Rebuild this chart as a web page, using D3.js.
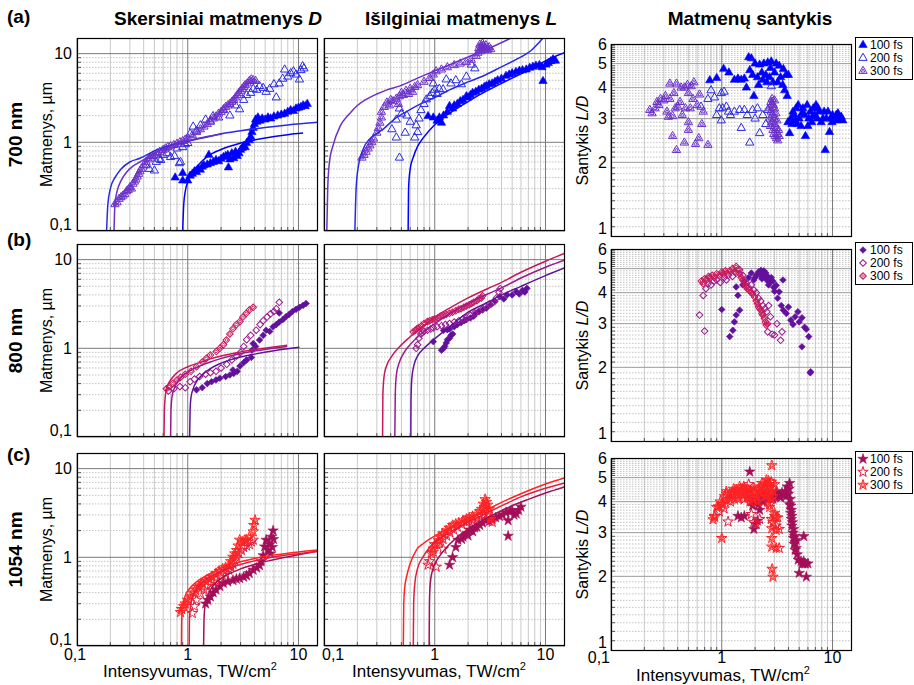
<!DOCTYPE html>
<html>
<head>
<meta charset="utf-8">
<script src="https://cdn.jsdelivr.net/npm/d3@7"></script>
<style>
  body { margin: 0; background: #fff; }
  svg { display: block; }
  text { font-family: "Liberation Sans", Arial, sans-serif; fill: #000; }
</style>
</head>
<body>
<svg id="chart" width="914" height="685"></svg>
<script>
// ---- labels ----
const rowTags = ["(a)", "(b)", "(c)"];
const wavelengths = ["700 nm", "800 nm", "1054 nm"];
const pulses = ["100 fs", "200 fs", "300 fs"];
const sizeTicks = [0.1, 1, 10];
const sizeTickLabels = ["0,1", "1", "10"];
const ratioTicks = [1, 2, 3, 4, 5, 6];
const xTicks = [0.1, 1, 10];
const xTickLabels = ["0,1", "1", "10"];

// ---- 700 nm: transverse size D [I, D] ----
const d700D100 = [[0.77,0.40],[0.9,0.37],[0.9,0.45],[1.0,0.37],[1.05,0.42],[1.1,0.44],[1.15,0.47],[1.2,0.46],[1.25,0.5],[1.3,0.49],[1.35,0.53],[1.4,0.55],[1.5,0.56],[1.55,0.72],[1.6,0.58],[1.7,0.6],[1.8,0.63],[1.9,0.61],[2.0,0.65],[2.1,0.68],[2.2,0.7],[2.33,0.52],[2.3,0.72],[2.4,0.64],[2.5,0.75],[2.6,0.66],[2.7,0.78],[2.8,0.7],[2.9,0.75],[3.0,0.82],[3.1,0.86],[3.2,0.9],[3.3,0.88],[3.4,0.98],[3.6,1.05],[3.7,1.15],[3.8,1.3],[3.9,1.45],[4.0,1.6],[4.1,1.8],[4.2,1.7],[4.3,1.9],[4.5,1.75],[4.7,1.85],[5.0,1.8],[5.3,1.9],[5.6,1.85],[6.0,1.95],[6.5,2.0],[7.0,2.05],[7.5,2.1],[8.0,2.2],[8.5,2.3],[9.0,2.25],[9.5,2.4],[10,2.45],[10.5,2.5],[11,2.6],[11.5,2.55],[12,2.7]];
const d700D200 = [[0.42,0.55],[0.45,0.5],[0.5,0.48],[0.52,0.6],[0.55,0.65],[0.57,0.63],[0.6,0.72],[0.65,0.75],[0.7,0.68],[0.76,0.70],[0.8,0.85],[0.84,0.58],[0.86,0.6],[0.9,0.88],[0.95,0.95],[1.0,0.98],[1.05,1.25],[1.12,1.5],[1.2,1.35],[1.3,1.55],[1.45,1.8],[1.6,1.7],[1.69,1.97],[1.9,1.9],[2.1,2.3],[2.4,2.0],[2.7,2.6],[2.94,2.35],[3.2,3.0],[3.4,3.4],[3.7,3.6],[3.9,4.0],[4.2,3.9],[4.45,4.3],[4.8,4.1],[5.1,3.7],[5.5,4.0],[6.0,4.5],[6.3,3.2],[6.7,4.6],[7.2,5.2],[7.5,6.6],[8.0,5.5],[8.5,6.0],[9.0,6.3],[9.5,5.8],[10.2,5.1],[10.5,6.5],[10.9,7.2],[11.2,6.8]];
const d700D300 = [[0.22,0.20],[0.23,0.21],[0.24,0.23],[0.25,0.24],[0.26,0.25],[0.27,0.26],[0.28,0.28],[0.29,0.29],[0.3,0.31],[0.31,0.30],[0.32,0.34],[0.33,0.36],[0.34,0.38],[0.35,0.41],[0.36,0.44],[0.37,0.47],[0.38,0.5],[0.4,0.55],[0.42,0.6],[0.44,0.64],[0.46,0.67],[0.48,0.7],[0.5,0.72],[0.53,0.75],[0.56,0.78],[0.6,0.82],[0.63,0.85],[0.66,0.88],[0.7,0.9],[0.75,0.93],[0.8,0.96],[0.85,1.0],[0.9,1.03],[0.95,1.07],[1.0,1.12],[1.1,1.2],[1.2,1.3],[1.3,1.4],[1.4,1.5],[1.5,1.6],[1.6,1.75],[1.7,1.85],[1.8,1.95],[1.9,2.1],[2.0,2.2],[2.1,2.35],[2.2,2.5],[2.3,2.6],[2.4,2.7],[2.5,2.85],[2.6,3.0],[2.7,3.2],[2.8,3.4],[2.9,3.6],[3.0,3.8],[3.1,4.0],[3.2,4.2],[3.3,4.4],[3.45,4.6],[3.6,4.9],[3.75,5.1],[3.9,5.0],[4.1,4.9]];
const f700D100 = [[0.9,0.1],[0.92,0.2],[0.95,0.28],[1.0,0.36],[1.1,0.46],[1.25,0.56],[1.5,0.69],[2,0.83],[3,0.98],[5,1.12],[8,1.22],[11,1.27]];
const f700D200 = [[0.185,0.1],[0.19,0.2],[0.2,0.3],[0.22,0.4],[0.25,0.5],[0.3,0.6],[0.37,0.66],[0.5,0.8],[0.7,0.92],[1,1.03],[1.5,1.15],[2,1.25],[3,1.35],[5,1.47],[8,1.57],[15,1.68]];
const f700D300 = [[0.216,0.1],[0.22,0.2],[0.23,0.28],[0.25,0.37],[0.28,0.46],[0.32,0.54],[0.37,0.6],[0.45,0.7],[0.6,0.84],[0.8,0.96],[1,1.04],[1.5,1.16],[2.05,1.24]];

// ---- 700 nm: longitudinal size L ----
const d700L100 = [[0.87,1.97],[0.97,1.9],[1.05,1.75],[1.15,1.66],[1.1,1.9],[1.2,2.0],[1.3,2.2],[1.36,2.56],[1.45,2.4],[1.5,2.6],[1.6,2.7],[1.7,2.9],[1.8,3.0],[1.93,3.3],[2.0,3.2],[2.1,3.4],[2.2,3.6],[2.35,3.7],[2.5,3.9],[2.65,4.0],[2.8,4.2],[2.92,4.3],[3.1,4.5],[3.3,4.6],[3.5,4.8],[3.7,5.0],[4.0,5.2],[4.4,5.6],[4.7,5.8],[5.0,6.0],[5.4,6.2],[5.8,6.4],[6.2,6.5],[6.7,6.6],[7.2,6.9],[7.7,7.1],[8.2,7.3],[8.8,7.4],[9.3,7.0],[9.5,4.9],[10.1,7.5],[10.6,7.8],[11.2,8.2],[11.7,8.6],[12.3,8.3]];
const d700L200 = [[0.41,1.4],[0.45,1.13],[0.45,1.8],[0.48,0.67],[0.48,2.4],[0.5,2.1],[0.54,1.28],[0.56,2.0],[0.6,1.7],[0.66,1.13],[0.68,1.55],[0.7,1.3],[0.72,1.85],[0.75,2.3],[0.8,2.7],[0.84,3.04],[0.9,3.3],[0.95,3.6],[0.97,4.6],[1.0,3.9],[1.05,3.5],[1.1,4.0],[1.19,3.95],[1.27,5.1],[1.4,4.6],[1.55,5.0],[1.74,4.5],[1.93,5.5],[2.14,7.5],[2.3,6.8]];
const d700L300 = [[0.22,0.67],[0.23,0.72],[0.24,0.78],[0.25,0.85],[0.26,0.92],[0.27,1.0],[0.28,1.1],[0.3,1.28],[0.31,1.45],[0.32,1.66],[0.33,1.9],[0.33,2.2],[0.35,2.5],[0.37,2.8],[0.39,2.6],[0.4,3.0],[0.42,2.9],[0.45,3.1],[0.47,2.7],[0.48,3.3],[0.5,3.6],[0.52,3.4],[0.55,3.8],[0.58,3.5],[0.6,4.0],[0.63,3.7],[0.66,4.2],[0.7,4.4],[0.8,4.8],[0.9,5.3],[0.97,5.8],[1.03,6.3],[1.15,6.6],[1.3,7.0],[1.5,7.4],[1.7,7.7],[1.93,8.0],[2.14,8.5],[2.37,9.4],[2.45,10.2],[2.5,11.5],[2.55,12.6],[2.6,10.6],[2.65,11.8],[2.7,13.0],[2.75,12.2],[2.8,10.9],[2.85,11.4],[2.9,12.4],[3.0,11.0],[3.1,11.8],[3.2,11.2]];
const f700L100 = [[0.575,0.1],[0.58,0.3],[0.6,0.5],[0.64,0.68],[0.7,0.9],[0.8,1.15],[0.97,1.52],[1.2,1.9],[1.5,2.3],[1.93,2.8],[2.5,3.4],[3.85,4.5],[5,5.3],[7.7,6.9],[10,8.3],[15,10.3]];
const f700L200 = [[0.19,0.1],[0.195,0.3],[0.205,0.55],[0.225,0.83],[0.26,1.1],[0.3,1.25],[0.34,1.4],[0.45,1.9],[0.55,2.2],[0.68,2.56],[1,3.2],[1.36,3.9],[2,4.8],[2.73,5.6],[4,7.1],[5.45,8.6],[7.5,11],[9.5,15]];
const f700L300 = [[0.106,0.1],[0.108,0.3],[0.112,0.6],[0.12,0.9],[0.14,1.52],[0.17,2.1],[0.2,2.6],[0.24,3.04],[0.3,3.5],[0.37,3.9],[0.48,4.3],[0.7,5.3],[0.97,6.3],[1.4,7.6],[1.93,9.0],[3,11.3],[4.9,15]];

// ---- 700 nm: ratio L/D ----
const r700_100 = [[0.78,4.28],[0.9,4.37],[1.04,4.76],[1.16,4.6],[1.3,4.3],[1.4,4.35],[1.5,4.3],[1.6,4.35],[1.67,4.0],[1.75,5.3],[1.79,4.7],[1.85,5.25],[1.9,4.5],[1.95,3.7],[2.0,5.0],[2.1,4.4],[2.15,4.1],[2.2,4.95],[2.3,4.6],[2.35,4.3],[2.4,5.0],[2.5,4.5],[2.55,4.2],[2.6,5.05],[2.7,4.4],[2.75,4.8],[2.8,5.1],[2.9,4.2],[3.0,4.6],[3.1,5.0],[3.2,4.2],[3.3,4.9],[3.4,4.4],[3.55,4.1],[3.6,4.75],[3.7,3.9],[3.8,4.5],[3.9,3.7],[4.0,4.5],[3.96,2.9],[4.1,2.62],[4.2,3.0],[4.3,2.85],[4.4,3.2],[4.5,3.1],[4.6,2.95],[4.7,3.3],[4.9,3.4],[5.0,3.0],[5.2,2.8],[5.4,3.3],[5.6,3.1],[5.7,2.55],[5.9,3.4],[6.1,3.0],[6.3,3.2],[6.5,2.9],[6.7,3.3],[6.9,3.1],[7.1,3.4],[7.3,3.0],[7.6,3.2],[7.9,2.9],[8.2,3.0],[8.6,2.24],[8.8,3.0],[9.1,3.2],[9.4,2.65],[9.7,3.0],[10.0,3.1],[10.4,2.95],[10.8,3.1],[11.2,3.15],[11.6,3.0],[12.0,3.05],[12.4,2.95],[4.8,2.85],[5.3,3.15],[6.0,2.8],[6.6,3.05],[7.4,3.3],[8.4,3.2],[9.9,2.9],[11.0,2.95]];
const r700_200 = [[0.65,3.35],[0.75,3.6],[0.8,3.9],[0.86,3.65],[0.9,3.1],[0.95,3.3],[0.99,3.8],[0.99,2.95],[1.02,3.3],[1.05,3.85],[1.1,3.35],[1.15,3.2],[1.2,3.1],[1.3,3.2],[1.45,3.25],[1.5,2.75],[1.6,3.25],[1.7,3.1],[1.79,2.4],[1.9,3.25],[2.0,3.0],[2.1,3.3],[2.2,2.62],[2.35,3.1],[2.5,2.85],[2.6,3.25],[2.8,4.05]];
const r700_300 = [[0.224,3.25],[0.235,3.15],[0.25,3.3],[0.26,3.5],[0.27,3.4],[0.28,3.6],[0.3,3.55],[0.31,3.7],[0.32,3.2],[0.33,3.05],[0.34,3.6],[0.34,4.15],[0.36,3.07],[0.36,2.55],[0.37,3.8],[0.38,3.3],[0.39,4.15],[0.39,2.24],[0.4,3.35],[0.42,3.5],[0.43,4.0],[0.44,3.1],[0.46,4.0],[0.46,2.4],[0.47,3.3],[0.49,4.1],[0.5,3.8],[0.5,2.7],[0.5,2.9],[0.52,3.3],[0.53,4.05],[0.55,3.6],[0.56,4.2],[0.58,2.37],[0.6,3.4],[0.62,2.5],[0.63,3.75],[0.66,2.85],[0.68,3.2],[0.75,2.35],[2.7,3.3],[2.72,3.0],[2.75,2.8],[2.78,3.5],[2.8,3.2],[2.82,2.9],[2.85,3.6],[2.85,3.45],[2.88,3.1],[2.9,2.7],[2.92,3.4],[2.95,2.6],[2.98,3.0],[3.0,3.3],[3.0,3.55],[3.02,2.85],[3.05,2.55],[3.08,3.15],[3.1,2.75],[3.12,2.5],[3.15,2.95],[3.18,2.6],[3.2,2.45],[3.25,2.7],[3.3,2.55]];

// ---- 800 nm: D ----
const d800D100 = [[1.2,0.34],[1.35,0.36],[1.5,0.4],[1.64,0.42],[1.8,0.44],[1.95,0.46],[2.2,0.48],[2.4,0.5],[2.6,0.52],[2.56,0.57],[2.8,0.55],[2.96,0.63],[3.2,0.69],[3.4,0.74],[3.75,0.79],[3.8,0.95],[3.9,1.13],[4.1,1.05],[4.45,1.24],[4.8,1.4],[5.1,1.6],[5.5,1.55],[5.9,1.75],[6.3,1.85],[6.7,1.98],[6.7,2.5],[7.2,2.1],[7.7,2.27],[8.2,2.4],[8.8,2.6],[9.5,2.75],[10.2,2.9],[11.0,3.05],[11.7,3.2]];
const d800D200 = [[0.67,0.33],[0.75,0.35],[0.85,0.37],[0.95,0.36],[1.05,0.42],[1.15,0.45],[1.28,0.48],[1.45,0.51],[1.6,0.53],[1.8,0.55],[2.0,0.6],[2.25,0.66],[2.5,0.74],[2.75,0.82],[3.0,0.9],[3.2,1.05],[3.4,1.25],[3.7,1.4],[4.15,1.6],[4.5,1.85],[4.8,2.05],[5.2,2.25],[5.6,2.45],[6.0,2.6],[6.3,2.8],[6.7,3.3]];
const d800D300 = [[0.64,0.35],[0.68,0.37],[0.73,0.4],[0.8,0.44],[0.86,0.47],[0.95,0.51],[1.07,0.55],[1.2,0.62],[1.35,0.7],[1.47,0.77],[1.6,0.84],[1.81,0.92],[1.95,1.0],[2.1,1.1],[2.23,1.24],[2.4,1.45],[2.56,1.66],[2.75,1.85],[2.96,2.0],[3.15,2.25],[3.38,2.48],[3.6,2.7],[3.9,2.9]];
const f800D100 = [[1.04,0.1],[1.05,0.2],[1.07,0.28],[1.12,0.35],[1.2,0.42],[1.35,0.5],[1.6,0.59],[2,0.68],[3,0.8],[4,0.86],[6,0.94],[8,0.99],[10.2,1.03]];
const f800D200 = [[0.70,0.1],[0.705,0.2],[0.72,0.28],[0.76,0.36],[0.82,0.43],[0.9,0.49],[1.0,0.54],[1.28,0.63],[1.6,0.7],[2,0.77],[3,0.87],[4,0.93],[5.5,0.99],[7.9,1.05]];
const f800D300 = [[0.61,0.1],[0.615,0.2],[0.63,0.3],[0.66,0.38],[0.72,0.46],[0.8,0.53],[1.0,0.62],[1.28,0.69],[1.6,0.76],[2,0.82],[3,0.91],[4,0.97],[5.5,1.02],[7.9,1.08]];

// ---- 800 nm: L ----
const d800L100 = [[0.97,1.19],[1.15,0.95],[1.2,1.0],[1.23,1.05],[1.27,1.15],[1.3,1.25],[1.36,1.3],[1.4,1.4],[1.45,1.45],[1.2,1.59],[1.3,1.62],[1.36,1.65],[1.5,1.75],[1.6,1.85],[1.73,1.95],[1.85,2.05],[1.93,2.1],[2.1,2.2],[2.25,2.3],[2.37,2.5],[2.5,2.6],[2.7,2.7],[2.92,2.83],[3.2,3.1],[3.5,3.4],[3.85,3.82],[4.2,3.6],[4.5,4.0],[5.0,4.0],[5.45,4.35],[5.8,4.1],[6.2,4.5],[6.5,4.3],[6.8,4.74]];
const d800L200 = [[0.68,1.0],[0.7,1.1],[0.72,1.3],[0.75,1.45],[0.77,1.5],[0.8,1.55],[0.86,1.6],[0.92,1.65],[0.97,1.7],[1.05,1.75],[1.15,1.8],[1.25,1.85],[1.36,1.9],[1.5,1.98],[1.65,2.05],[1.8,2.15],[1.93,2.2],[2.1,2.35],[2.3,2.5],[2.5,2.6],[2.7,2.8],[2.9,3.0],[3.1,3.15],[3.4,3.3],[3.6,3.7],[3.8,4.3],[3.9,4.7]];
const d800L300 = [[0.64,1.54],[0.67,1.6],[0.69,1.66],[0.72,1.72],[0.76,1.8],[0.8,1.9],[0.86,2.0],[0.9,2.05],[0.95,2.1],[1.0,2.15],[1.07,2.2],[1.12,2.3],[1.2,2.35],[1.27,2.4],[1.36,2.48],[1.45,2.55],[1.55,2.65],[1.65,2.75],[1.73,2.8],[1.83,2.9],[1.93,3.0],[2.05,3.1],[2.15,3.2],[2.25,3.3],[2.4,3.45],[2.5,3.6],[2.63,3.7],[2.7,3.9]];
const f800L100 = [[0.608,0.1],[0.61,0.25],[0.62,0.45],[0.65,0.65],[0.7,0.82],[0.8,1.0],[0.97,1.24],[1.4,1.8],[1.93,2.48],[3,3.3],[3.85,3.9],[6,5.0],[10,6.6],[15,8.1]];
const f800L200 = [[0.436,0.1],[0.44,0.3],[0.45,0.5],[0.48,0.7],[0.53,0.9],[0.6,1.1],[0.75,1.45],[0.97,1.85],[1.4,2.5],[2,3.2],[3,4.1],[4,4.8],[6,6.2],[10,8.2],[15,9.9]];
const f800L300 = [[0.338,0.1],[0.34,0.3],[0.35,0.5],[0.37,0.65],[0.4,0.78],[0.48,1.04],[0.6,1.35],[0.8,1.8],[0.97,2.18],[1.4,2.9],[2,3.7],[3,4.7],[3.85,5.4],[6,7.2],[10,9.6],[15,11.8]];

// ---- 800 nm: ratio ----
const r800_100 = [[1.0,3.42],[1.18,2.66],[1.26,2.82],[1.3,3.05],[1.35,3.25],[1.45,3.4],[1.35,4.22],[1.4,3.9],[1.55,4.3],[1.6,4.45],[1.75,4.6],[1.85,4.8],[1.95,4.5],[2.0,4.6],[2.05,4.7],[2.15,4.85],[2.2,4.75],[2.26,4.92],[2.3,4.55],[2.35,4.6],[2.4,4.9],[2.45,4.75],[2.5,4.8],[2.55,4.5],[2.6,4.65],[2.65,4.3],[2.7,4.4],[2.8,4.6],[2.9,4.45],[2.95,4.2],[3.0,4.05],[3.1,4.28],[3.2,3.8],[3.3,4.03],[3.57,4.5],[3.45,3.55],[3.6,3.4],[3.83,3.3],[4.0,3.5],[4.2,3.1],[4.4,2.98],[4.6,3.2],[4.87,3.35],[5.0,3.05],[5.3,3.17],[5.3,2.42],[5.6,2.9],[5.8,2.85],[6.1,2.66],[6.3,1.9],[6.35,1.92]];
const r800_200 = [[0.63,3.25],[0.68,3.9],[0.7,2.8],[0.72,4.15],[0.75,4.35],[0.8,4.3],[0.85,4.45],[0.9,4.5],[0.97,4.4],[1.05,4.6],[1.1,4.5],[1.15,4.7],[1.25,4.65],[1.35,4.8],[1.45,4.95],[1.55,4.7],[1.65,4.4],[1.75,4.2],[1.85,4.3],[1.95,4.1],[2.05,4.0],[2.15,3.8],[2.25,3.7],[2.35,3.55],[2.45,3.45],[2.55,3.35],[2.65,3.55],[2.75,3.2],[2.6,2.78],[2.85,2.72],[3.0,2.7],[3.15,3.0],[3.4,2.57],[3.5,2.78]];
const r800_300 = [[0.656,4.46],[0.68,4.35],[0.7,4.55],[0.73,4.5],[0.76,4.65],[0.78,4.62],[0.82,4.7],[0.86,4.6],[0.9,4.77],[0.95,4.7],[1.0,4.85],[1.03,4.75],[1.08,4.9],[1.12,4.8],[1.18,4.9],[1.25,5.0],[1.3,4.85],[1.35,5.1],[1.4,4.95],[1.45,4.77],[1.5,4.6],[1.55,4.5],[1.6,4.35],[1.65,4.25],[1.7,4.15],[1.78,4.09],[1.85,4.0],[1.9,3.95],[1.98,3.84],[2.05,3.7],[2.1,3.61],[2.15,3.5],[2.2,3.45],[2.26,3.4],[2.3,3.3],[2.35,3.25],[2.43,3.15],[2.48,3.05],[2.52,2.96],[2.6,3.0]];

// ---- 1054 nm: D ----
const d1054D100 = [[1.45,0.3],[1.52,0.33],[1.6,0.36],[1.7,0.4],[1.8,0.43],[1.95,0.47],[2.1,0.51],[2.3,0.53],[2.56,0.55],[2.75,0.57],[2.94,0.58],[3.2,0.6],[3.4,0.62],[3.6,0.66],[3.9,0.72],[4.2,0.76],[4.45,0.81],[4.6,0.9],[4.8,1.05],[4.95,1.32],[5.1,1.57],[5.3,1.2],[5.5,1.4],[5.6,1.1],[5.7,1.7],[5.8,1.3],[5.9,2.0],[5.95,1.6]];
const d1054D200 = [[1.1,0.234],[1.15,0.28],[1.2,0.33],[1.3,0.39],[1.4,0.43],[1.5,0.47],[1.6,0.5],[1.7,0.53],[1.8,0.55],[1.95,0.6],[2.05,0.63],[2.2,0.66],[2.35,0.72],[2.45,0.78],[2.56,0.84],[2.65,0.92],[2.75,1.0],[2.9,1.1],[3.05,1.2],[3.2,1.3],[3.4,1.35],[3.6,1.4],[3.75,1.5],[3.9,1.57]];
const d1054D300 = [[0.86,0.24],[0.88,0.26],[0.92,0.28],[0.95,0.3],[1.0,0.33],[1.06,0.36],[1.12,0.4],[1.18,0.43],[1.25,0.46],[1.3,0.48],[1.36,0.51],[1.45,0.54],[1.56,0.57],[1.65,0.61],[1.8,0.66],[1.92,0.7],[2.06,0.74],[2.2,0.77],[2.35,0.8],[2.45,0.9],[2.56,1.01],[2.66,1.1],[2.76,1.2],[2.85,1.35],[2.94,1.57],[3.1,1.5],[3.25,1.55],[3.38,1.57],[3.6,1.7],[3.9,1.95],[3.95,2.3],[4.05,2.63]];
const f1054D100 = [[1.39,0.1],[1.4,0.18],[1.42,0.26],[1.48,0.34],[1.6,0.43],[1.81,0.52],[2.2,0.62],[3,0.74],[4,0.83],[5.1,0.9],[7,0.98],[10,1.07],[15,1.17]];
const f1054D200 = [[1.03,0.1],[1.035,0.18],[1.05,0.26],[1.1,0.35],[1.2,0.44],[1.4,0.54],[1.7,0.63],[2.2,0.73],[3,0.83],[4.5,0.94],[7,1.04],[10,1.1],[15,1.17]];
const f1054D300 = [[0.877,0.1],[0.88,0.18],[0.9,0.28],[0.95,0.37],[1.05,0.45],[1.2,0.53],[1.5,0.63],[2,0.75],[2.56,0.84],[4,0.97],[6,1.06],[10,1.15],[15,1.21]];

// ---- 1054 nm: L ----
const d1054L100 = [[1.36,0.82],[1.45,1.0],[1.55,1.3],[1.62,1.57],[1.75,1.6],[1.8,1.7],[1.93,1.85],[2.0,1.75],[2.07,2.05],[2.2,1.95],[2.3,2.15],[2.4,2.2],[2.55,2.3],[2.7,2.45],[2.92,2.6],[3.1,2.55],[3.3,2.7],[3.55,2.8],[3.85,2.9],[4.1,3.0],[4.4,3.2],[4.6,2.6],[4.6,1.74],[4.8,3.3],[5.0,3.4],[5.2,3.0],[5.45,3.1],[5.7,3.4],[6.0,3.7]];
const d1054L200 = [[0.87,0.82],[0.9,0.9],[0.97,1.15],[1.0,1.4],[1.03,0.78],[1.1,1.45],[1.19,1.24],[1.19,1.6],[1.28,1.75],[1.37,1.9],[1.48,2.05],[1.6,2.2],[1.75,2.35],[1.93,2.5],[2.05,2.55],[2.2,2.6],[2.4,2.75],[2.65,2.9],[2.8,3.0],[3.0,3.1],[3.3,2.5]];
const d1054L300 = [[0.93,1.11],[0.97,1.25],[1.04,1.4],[1.08,1.55],[1.11,1.7],[1.18,1.85],[1.27,2.0],[1.35,2.15],[1.45,2.3],[1.55,2.38],[1.65,2.45],[1.8,2.6],[1.93,2.7],[2.05,2.8],[2.2,2.9],[2.35,3.05],[2.55,3.3],[2.65,3.5],[2.75,4.0],[2.8,3.7],[2.85,4.5],[2.92,4.2],[3.0,3.9],[3.1,3.5],[3.2,2.7]];
const f1054L100 = [[0.89,0.1],[0.895,0.3],[0.91,0.5],[0.95,0.7],[1.03,0.9],[1.15,1.1],[1.36,1.4],[1.7,1.8],[2.2,2.25],[3,2.8],[4.5,3.6],[7,4.5],[10,5.3],[15,6.25]];
const f1054L200 = [[0.64,0.1],[0.645,0.3],[0.66,0.5],[0.7,0.75],[0.78,1.0],[0.9,1.3],[1.1,1.6],[1.4,1.95],[2,2.5],[3,3.2],[4,3.8],[6,4.8],[10,6.0],[15,6.9]];
const f1054L300 = [[0.52,0.1],[0.525,0.3],[0.535,0.45],[0.556,0.6],[0.6,0.85],[0.68,1.2],[0.8,1.45],[0.97,1.7],[1.4,2.2],[1.93,2.63],[2.8,3.3],[3.85,4.06],[6,5.2],[10,6.7],[15,7.9]];

// ---- 1054 nm: ratio ----
const r1054_100 = [[1.4,3.5],[1.5,3.45],[1.6,3.5],[1.7,4.2],[1.79,5.28],[1.8,4.45],[1.85,4.0],[1.9,3.85],[1.95,3.1],[2.0,3.25],[2.0,4.1],[2.1,3.35],[2.15,3.9],[2.2,3.7],[2.25,4.4],[2.3,4.2],[2.35,4.0],[2.45,4.3],[2.5,4.15],[2.6,4.1],[2.7,4.25],[2.8,4.35],[2.9,4.1],[3.0,4.2],[3.1,4.4],[3.2,4.3],[3.3,4.2],[3.4,4.15],[3.5,4.35],[3.6,4.25],[3.75,4.4],[3.8,4.2],[3.9,4.6],[4.0,4.3],[4.05,4.5],[4.1,4.75],[4.1,3.9],[4.15,4.1],[4.2,3.85],[4.2,3.6],[4.25,3.4],[4.25,3.7],[4.3,3.2],[4.3,3.5],[4.35,3.3],[4.4,3.0],[4.45,2.85],[4.45,3.1],[4.5,2.7],[4.55,2.9],[4.6,2.55],[4.6,2.75],[4.7,2.8],[4.7,2.6],[4.8,2.45],[4.9,2.33],[5.0,2.06],[5.2,2.3],[5.3,2.25],[5.4,2.25],[5.5,2.9],[5.5,2.3],[5.6,2.25],[5.7,2.25],[5.8,1.99],[6.0,2.25]];
const r1054_200 = [[0.86,3.5],[0.95,3.65],[1.0,3.9],[1.05,3.75],[1.1,4.3],[1.14,3.32],[1.2,4.0],[1.25,4.35],[1.3,4.1],[1.4,4.2],[1.5,4.35],[1.55,4.5],[1.6,4.1],[1.7,4.3],[1.75,4.7],[1.85,3.56],[1.95,3.3],[2.0,4.4],[2.05,3.25],[2.15,4.5],[2.2,3.4],[2.3,4.2],[2.4,4.0],[2.5,4.3],[2.6,4.0],[2.7,3.9],[2.7,4.6],[2.8,4.8],[2.9,3.3],[2.9,4.2],[3.0,3.5],[3.1,3.45],[3.1,3.2],[3.3,3.1],[3.3,2.6]];
const r1054_300 = [[0.835,3.39],[0.86,3.47],[0.9,3.8],[0.93,3.82],[0.97,4.0],[1.0,2.85],[1.03,3.9],[1.06,4.2],[1.1,4.4],[1.12,4.05],[1.18,4.3],[1.2,4.1],[1.25,4.2],[1.28,4.5],[1.3,4.4],[1.36,4.46],[1.4,4.1],[1.42,4.3],[1.45,4.6],[1.5,4.5],[1.55,4.25],[1.58,4.6],[1.62,4.45],[1.65,4.3],[1.7,4.5],[1.72,4.15],[1.8,4.0],[1.85,4.4],[1.9,4.1],[1.95,4.55],[2.0,4.3],[2.05,4.2],[2.1,4.0],[2.15,4.5],[2.2,4.35],[2.25,4.6],[2.3,4.75],[2.35,4.3],[2.4,4.45],[2.45,4.7],[2.5,4.2],[2.53,4.89],[2.6,4.55],[2.65,4.85],[2.71,4.7],[2.75,4.4],[2.8,4.1],[2.71,3.8],[2.83,5.6],[2.8,3.4],[2.83,3.12],[2.83,2.85],[2.83,2.63],[2.85,2.14],[2.9,1.99],[2.9,4.4],[3.0,3.6],[3.0,4.7],[3.1,3.07],[3.1,2.6],[3.2,3.45]];

// ---- layout ----
const PW = 241, PH = 193;
const colX = [77, 324, 611];
const rowYL = [38, 244, 453];
const rowYR = [44, 249, 458];
const palette = [
  ["#0000ff", "#2a2ae6", "#6a30c8"],
  ["#62119c", "#9b1a8e", "#c8185c"],
  ["#a30f58", "#e21c3c", "#ff2222"]
];
const shapes = ["tri", "dia", "star"];

const rows = [
  { D: [d700D100, d700D200, d700D300], Df: [f700D100, f700D200, f700D300],
    L: [d700L100, d700L200, d700L300], Lf: [f700L100, f700L200, f700L300],
    R: [r700_100, r700_200, r700_300] },
  { D: [d800D100, d800D200, d800D300], Df: [f800D100, f800D200, f800D300],
    L: [d800L100, d800L200, d800L300], Lf: [f800L100, f800L200, f800L300],
    R: [r800_100, r800_200, r800_300] },
  { D: [d1054D100, d1054D200, d1054D300], Df: [f1054D100, f1054D200, f1054D300],
    L: [d1054L100, d1054L200, d1054L300], Lf: [f1054L100, f1054L200, f1054L300],
    R: [r1054_100, r1054_200, r1054_300] }
];

const svg = d3.select("#chart");
const defs = svg.append("defs");

function symPath(shape, size) {
  const type = shape === "tri" ? d3.symbolTriangle : shape === "dia" ? d3.symbolSquare : d3.symbolStar;
  return d3.symbol().type(type).size(size)();
}
const symSize = { tri: 30, dia: 22, star: 34 };

function drawMarks(g, pts, shape, color, kind, x, y) {
  const rot = shape === "dia" ? " rotate(45)" : "";
  const outer = symPath(shape, symSize[shape]);
  const sel = g.append("g").selectAll("path").data(pts).join("path")
    .attr("transform", d => `translate(${x(d[0])},${y(d[1])})${rot}`)
    .attr("d", outer);
  if (kind === 0) sel.attr("fill", color).attr("stroke", color).attr("stroke-width", 0.6);
  else sel.attr("fill", "none").attr("stroke", color).attr("stroke-width", 1);
  if (kind === 2) {
    g.append("g").selectAll("path").data(pts).join("path")
      .attr("transform", d => `translate(${x(d[0])},${y(d[1])})${rot}`)
      .attr("d", symPath(shape, symSize[shape] / 5))
      .attr("fill", "none").attr("stroke", color).attr("stroke-width", 0.9);
  }
}

function drawPanel(id, x0, y0, yDomain, ratio) {
  const x = d3.scaleLog().domain([0.1, 15]).range([x0, x0 + PW]);
  const y = d3.scaleLog().domain(yDomain).range([y0 + PH, y0]);
  const g = svg.append("g");

  g.append("rect").attr("x", x0).attr("y", y0).attr("width", PW).attr("height", PH).attr("fill", "#fff");

  // vertical grid
  const xMinor = [];
  [0.1, 1].forEach(b => { for (let k = 2; k <= 9; k++) xMinor.push(b * k); });
  g.append("g").selectAll("line").data(xMinor).join("line")
    .attr("x1", d => x(d)).attr("x2", d => x(d)).attr("y1", y0).attr("y2", y0 + PH)
    .attr("stroke", "#c9c9c9").attr("stroke-width", 1);

  // horizontal grid
  let yMinor, yMid, yMajor;
  if (ratio) {
    yMinor = d3.range(11, 60).filter(v => v % 10 !== 0).map(v => v / 10);
    yMid = [2, 3, 4, 5];
    yMajor = [];
  } else {
    yMinor = [];
    [0.1, 1, 10].forEach(b => { for (let k = 2; k <= 9; k++) if (b * k < 15) yMinor.push(b * k); });
    yMid = [];
    yMajor = sizeTicks;
  }
  g.append("g").selectAll("line").data(yMinor).join("line")
    .attr("x1", x0).attr("x2", x0 + PW).attr("y1", d => y(d)).attr("y2", d => y(d))
    .attr("stroke", "#b4b4b4").attr("stroke-width", 0.8).attr("stroke-dasharray", "1.5,1.5");
  g.append("g").selectAll("line").data(yMid).join("line")
    .attr("x1", x0).attr("x2", x0 + PW).attr("y1", d => y(d)).attr("y2", d => y(d))
    .attr("stroke", "#9a9a9a").attr("stroke-width", 1);
  g.append("g").selectAll("line").data(yMajor).join("line")
    .attr("x1", x0).attr("x2", x0 + PW).attr("y1", d => y(d)).attr("y2", d => y(d))
    .attr("stroke", "#7a7a7a").attr("stroke-width", 1);
  g.append("g").selectAll("line").data(xTicks).join("line")
    .attr("x1", d => x(d)).attr("x2", d => x(d)).attr("y1", y0).attr("y2", y0 + PH)
    .attr("stroke", "#7a7a7a").attr("stroke-width", 1);

  // small inner ticks
  g.append("g").selectAll("line").data(yMinor).join("line")
    .attr("x1", x0).attr("x2", x0 + 4).attr("y1", d => y(d)).attr("y2", d => y(d))
    .attr("stroke", "#555").attr("stroke-width", 1);
  g.append("g").selectAll("line").data(xMinor).join("line")
    .attr("x1", d => x(d)).attr("x2", d => x(d)).attr("y1", y0 + PH).attr("y2", y0 + PH - 4)
    .attr("stroke", "#555").attr("stroke-width", 1);

  defs.append("clipPath").attr("id", id).append("rect")
    .attr("x", x0).attr("y", y0).attr("width", PW).attr("height", PH);
  const plot = g.append("g").attr("clip-path", `url(#${id})`);

  const border = () => g.append("rect").attr("x", x0 + 0.5).attr("y", y0 + 0.5)
    .attr("width", PW - 1).attr("height", PH - 1).attr("fill", "none")
    .attr("stroke", "#000").attr("stroke-width", 1.2);
  return { x, y, g, plot, border };
}

const line = (x, y) => d3.line().x(d => x(d[0])).y(d => y(d[1])).curve(d3.curveMonotoneX);

rows.forEach((row, r) => {
  const cols = palette[r];
  const shape = shapes[r];

  // D and L panels
  [["D", "Df"], ["L", "Lf"]].forEach(([k, kf], c) => {
    const p = drawPanel(`clip${r}${c}`, colX[c], rowYL[r], [0.1, 15], false);
    [0, 1, 2].forEach(i => drawMarks(p.plot, row[k][i], shape, cols[i], i, p.x, p.y));
    [0, 1, 2].forEach(i => p.plot.append("path").datum(row[kf][i])
      .attr("d", line(p.x, p.y)).attr("fill", "none")
      .attr("stroke", cols[i]).attr("stroke-width", 1.5));
    p.border();
    if (c === 0) {
      p.g.append("g").selectAll("text").data(sizeTicks).join("text")
        .attr("x", colX[0] - 5).attr("y", (d, i) => p.y(d) - (i === 0 ? 7 : 0)).attr("dy", "0.36em")
        .attr("text-anchor", "end").attr("font-size", 16)
        .text((d, i) => sizeTickLabels[i]);
    }
    if (r === 2) {
      const anchors = c === 0 ? ["middle", "middle", "middle"] : ["start", "middle", "middle"];
      p.g.append("g").selectAll("text").data(xTicks).join("text")
        .attr("x", (d, i) => p.x(d) + (i === 0 ? -2 : 0)).attr("y", rowYL[r] + PH + 14)
        .attr("text-anchor", (d, i) => anchors[i]).attr("font-size", 16)
        .text((d, i) => xTickLabels[i]);
    }
  });

  // ratio panel
  const p = drawPanel(`clip${r}2`, colX[2], rowYR[r], [1, 6], true);
  [0, 1, 2].forEach(i => drawMarks(p.plot, row.R[i], shape, cols[i], i, p.x, p.y));
  p.border();
  p.g.append("g").selectAll("text").data(ratioTicks).join("text")
    .attr("x", colX[2] - 4).attr("y", d => p.y(d) - (d === 1 ? 9 : 0)).attr("dy", "0.36em")
    .attr("text-anchor", "end").attr("font-size", 16).text(d => d);
  if (r === 2) {
    const anchors = ["end", "middle", "middle"];
    p.g.append("g").selectAll("text").data(xTicks).join("text")
      .attr("x", (d, i) => p.x(d) + (i === 0 ? -1 : 0)).attr("y", rowYR[r] + PH + 12)
      .attr("text-anchor", (d, i) => anchors[i]).attr("font-size", 16)
      .text((d, i) => xTickLabels[i]);
  }

  // legend
  const lx = 855, ly = rowYR[r] - 7;
  const lg = svg.append("g");
  lg.append("rect").attr("x", lx + 0.5).attr("y", ly + 0.5).attr("width", 57).attr("height", 42)
    .attr("fill", "#fff").attr("stroke", "#000").attr("stroke-width", 1);
  pulses.forEach((t, i) => {
    const cy = ly + 8 + i * 13;
    drawMarks(lg, [[0, 0]], shape, cols[i], i, () => lx + 8, () => cy);
    lg.append("text").attr("x", lx + 15).attr("y", cy + 4).attr("font-size", 12).text(t);
  });

  // row tag + wavelength + y labels
  svg.append("text").attr("x", 7).attr("y", [22.5, 245.5, 461][r])
    .attr("font-size", 19).attr("font-weight", "bold").text(rowTags[r]);
  const cyL = rowYL[r] + PH / 2;
  svg.append("text").attr("transform", `translate(21.5,${cyL}) rotate(-90)`)
    .attr("text-anchor", "middle").attr("font-size", 19).attr("font-weight", "bold")
    .text(wavelengths[r]);
  svg.append("text").attr("transform", `translate(52,${cyL}) rotate(-90)`)
    .attr("text-anchor", "middle").attr("font-size", 16).text("Matmenys, µm");
  const cyR = rowYR[r] + PH / 2;
  const st = svg.append("text").attr("transform", `translate(588,${cyR}) rotate(-90)`)
    .attr("text-anchor", "middle").attr("font-size", 16);
  st.append("tspan").text("Santykis ");
  st.append("tspan").attr("font-style", "italic").text("L/D");
});

// column titles
const t1 = svg.append("text").attr("x", 218).attr("y", 25).attr("text-anchor", "middle")
  .attr("font-size", 19).attr("font-weight", "bold");
t1.append("tspan").text("Skersiniai matmenys ");
t1.append("tspan").attr("font-style", "italic").text("D");
const t2 = svg.append("text").attr("x", 461).attr("y", 25).attr("text-anchor", "middle")
  .attr("font-size", 19).attr("font-weight", "bold");
t2.append("tspan").text("Išilginiai matmenys ");
t2.append("tspan").attr("font-style", "italic").text("L");
svg.append("text").attr("x", 750).attr("y", 25).attr("text-anchor", "middle")
  .attr("font-size", 19).attr("font-weight", "bold").text("Matmenų santykis");

// x axis titles
[190, 439, 723].forEach((cx, i) => {
  const t = svg.append("text").attr("x", cx).attr("y", i === 2 ? 681 : 677)
    .attr("text-anchor", "middle").attr("font-size", 17);
  t.append("tspan").text("Intensyvumas, TW/cm");
  t.append("tspan").attr("font-size", 11).attr("dy", -7).text("2");
});
</script>
</body>
</html>
